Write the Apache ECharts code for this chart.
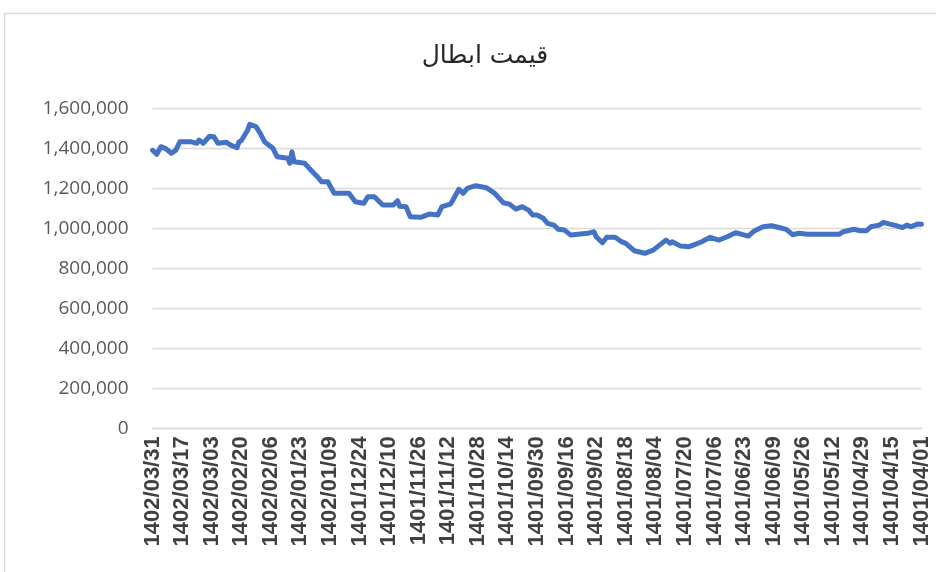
<!DOCTYPE html>
<html>
<head>
<meta charset="utf-8">
<script src="https://cdn.jsdelivr.net/npm/echarts@6/dist/echarts.min.js"></script>
<style>
  html, body { margin: 0; padding: 0; background: #fff; }
  #main { width: 936px; height: 572px; }
</style>
</head>
<body>
<div id="main"></div>
<script>
// Cancellation price chart (days counted back from 1402/03/31)

// tick labels, one every 14 days, newest on the left
const tickLabels = [
    '1402/03/31', '1402/03/17', '1402/03/03', '1402/02/20', '1402/02/06',
    '1402/01/23', '1402/01/09', '1401/12/24', '1401/12/10', '1401/11/26',
    '1401/11/12', '1401/10/28', '1401/10/14', '1401/09/30', '1401/09/16',
    '1401/09/02', '1401/08/18', '1401/08/04', '1401/07/20', '1401/07/06',
    '1401/06/23', '1401/06/09', '1401/05/26', '1401/05/12', '1401/04/29',
    '1401/04/15', '1401/04/01'
];

// day offset from the left edge
const days = [
    0, 2, 4, 6, 9, 11, 13, 18, 21, 22, 24, 27, 29, 31, 35, 37, 40, 41, 42, 45,
    46, 49, 51, 53, 57, 59, 64, 65, 66, 67, 72, 75, 78, 80, 83, 86, 93, 96, 100, 102,
    105, 109, 114, 116, 117, 120, 122, 127, 131, 135, 137, 141, 142, 145, 147, 149, 153, 158, 162, 166,
    169, 172, 175, 178, 180, 182, 185, 187, 190, 192, 195, 198, 206, 209, 210, 213, 215, 219, 222, 224,
    228, 233, 237, 240, 243, 245, 246, 250, 254, 256, 260, 264, 268, 272, 276, 282, 285, 289, 293, 297,
    300, 303, 306, 310, 325, 327, 332, 335, 338, 340, 344, 346, 349, 352, 355, 357, 359, 362, 364
];

// price
const prices = [
    1390000, 1370000, 1408000, 1400000, 1375000, 1390000, 1433000, 1433000, 1425000, 1441000,
    1425000, 1460000, 1458000, 1425000, 1430000, 1416000, 1403000, 1433000, 1438000, 1490000,
    1520000, 1508000, 1475000, 1433000, 1400000, 1358000, 1350000, 1325000, 1383000, 1333000,
    1325000, 1291000, 1258000, 1233000, 1233000, 1175000, 1175000, 1133000, 1125000, 1158000,
    1158000, 1116000, 1116000, 1138000, 1110000, 1108000, 1058000, 1055000, 1071000, 1066000,
    1108000, 1121000, 1138000, 1195000, 1175000, 1200000, 1213000, 1203000, 1175000, 1128000,
    1121000, 1096000, 1108000, 1091000, 1066000, 1066000, 1050000, 1025000, 1016000, 995000,
    991000, 966000, 975000, 983000, 958000, 928000, 955000, 955000, 933000, 925000,
    888000, 875000, 891000, 916000, 941000, 925000, 933000, 911000, 908000, 916000,
    933000, 955000, 941000, 958000, 978000, 961000, 988000, 1008000, 1013000, 1003000,
    995000, 968000, 975000, 970000, 970000, 983000, 995000, 988000, 988000, 1008000,
    1016000, 1030000, 1021000, 1013000, 1003000, 1016000, 1008000, 1021000, 1020000
];

const chart = echarts.init(document.getElementById('main'));

const option = {
    backgroundColor: '#ffffff',
    animation: false,
    graphic: [{
        type: 'rect',
        silent: true,
        z: -10,
        shape: { x: 4.5, y: 13.5, width: 1000, height: 1000 },
        style: { fill: 'none', stroke: '#d9d9d9', lineWidth: 1.5 }
    }],
    title: {
        text: 'قیمت ابطال',
        left: 480,
        top: 39,
        textAlign: 'center',
        textStyle: {
            fontFamily: 'DejaVu Sans',
            fontSize: 25,
            fontWeight: 'normal',
            color: '#262626'
        }
    },
    grid: { left: 152.5, right: 14.5, top: 108.3, bottom: 143.7 },
    xAxis: {
        type: 'value',
        min: 0,
        max: 364,
        interval: 14,
        axisLine: { show: true, lineStyle: { color: '#d9d9d9', width: 1.3 } },
        axisTick: { show: false },
        splitLine: { show: false },
        axisLabel: {
            rotate: 90,
            margin: 8,
            showMinLabel: true,
            showMaxLabel: true,
            hideOverlap: false,
            fontFamily: 'Liberation Sans',
            fontSize: 22,
            fontWeight: 'bold',
            color: '#404040',
            formatter: v => tickLabels[Math.round(v / 14)] || ''
        }
    },
    yAxis: {
        type: 'value',
        min: 0,
        max: 1600000,
        interval: 200000,
        axisLine: { show: false },
        axisTick: { show: false },
        splitLine: { lineStyle: { color: '#d9d9d9', width: 1.3 } },
        axisLabel: {
            margin: 24,
            fontFamily: 'Open Sans',
            fontSize: 19,
            color: '#595959',
            formatter: v => v.toLocaleString('en-US')
        }
    },
    series: [{
        type: 'line',
        data: days.map((d, i) => [d, prices[i]]),
        showSymbol: false,
        smooth: false,
        lineStyle: { color: '#4472C4', width: 5, join: 'round', cap: 'round' }
    }]
};

chart.setOption(option);
</script>
</body>
</html>
